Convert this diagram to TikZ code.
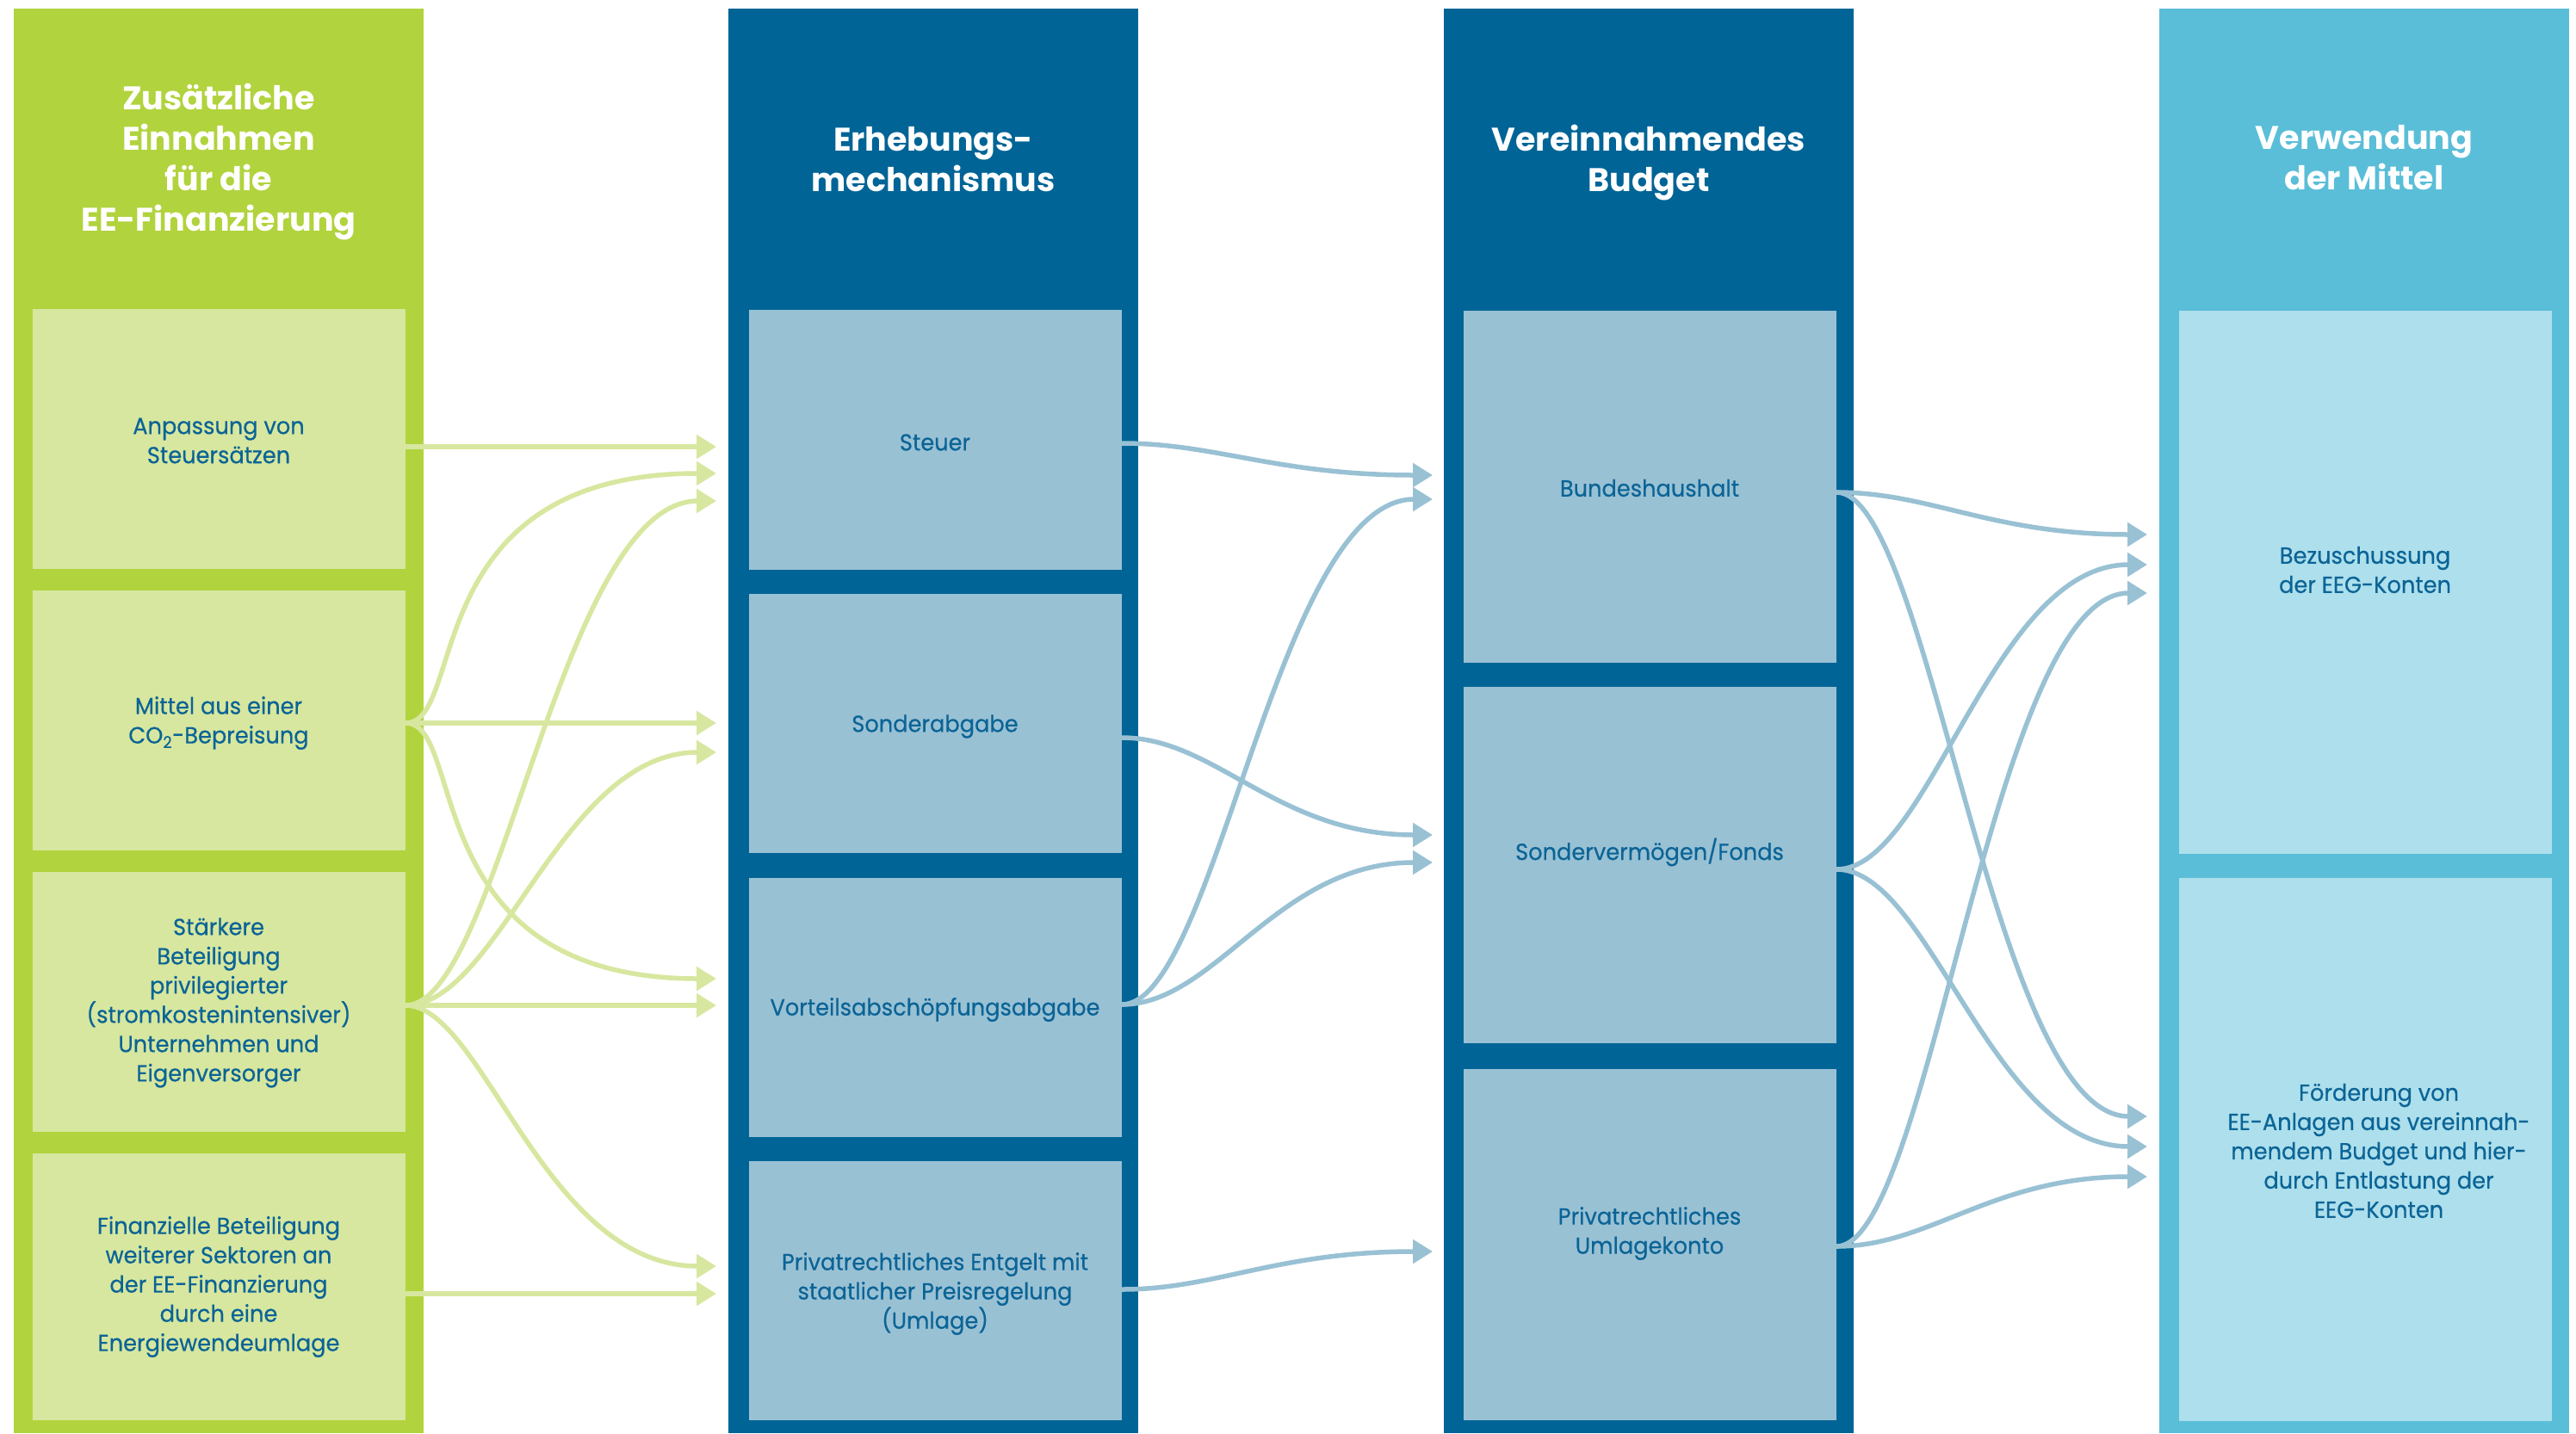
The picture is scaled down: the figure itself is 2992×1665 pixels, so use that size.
\documentclass[tikz,border=0pt]{standalone}
\usepackage{fontspec}
\setmainfont{Poppins}
\newfontfamily\bodyfont{Poppins}[FakeBold=0.5, FakeStretch=0.95]
\usetikzlibrary{arrows.meta}

\definecolor{lime}{HTML}{B1D33D}
\definecolor{limepale}{HTML}{D7E79F}
\definecolor{navy}{HTML}{006496}
\definecolor{steel}{HTML}{99C1D4}
\definecolor{sky}{HTML}{5ABED8}
\definecolor{skypale}{HTML}{ADDFEC}
\definecolor{ink}{HTML}{0B6496}

\tikzset{
  band/.style={fill=#1, draw=none, inner sep=0pt, outer sep=0pt, anchor=north west,
    minimum width=476pt, minimum height=1655pt},
  cell/.style={fill=#1, draw=none, inner sep=0pt, outer sep=0pt, anchor=north west,
    minimum width=433pt},
  head/.style={text=white, font=\fontsize{38}{47}\selectfont\bfseries, align=center, inner sep=0pt},
  txt/.style={text=ink, font=\bodyfont\fontsize{27}{34}\selectfont, align=center, inner sep=0pt},
  tipA/.style={-{Triangle[length=23pt,width=27pt]}},
  flowG/.style={draw=limepale, line width=5.5pt, tipA},
  flowB/.style={draw=steel, line width=5.5pt, tipA},
}

\begin{document}
\begin{tikzpicture}[x=1pt, y=-1pt]
\useasboundingbox (0,0) rectangle (2992,1665);
\fill[white] (0,0) rectangle (2992,1665);

% ---------- column bands ----------
\node[band=lime]  (colA) at (16,10) {};
\node[band=navy]  (colB) at (846,10) {};
\node[band=navy]  (colC) at (1677,10) {};
\node[band=sky]   (colD) at (2508,10) {};

% ---------- headers ----------
\node[head] (hA) at (254,188) {Zusätzliche\\Einnahmen\\für die\\EE-Finanzierung};
\node[head] (hB) at (1084,185) {Erhebungs-\\mechanismus};
\node[head] (hC) at (1915,189) {Vereinnahmendes\\Budget};
\node[head] (hD) at (2746,183) {Verwendung\\der Mittel};

% ---------- column 1 cells ----------
\node[cell=limepale, minimum height=302pt] (anp) at (38,359)  {};
\node[cell=limepale, minimum height=302pt] (mit) at (38,686)  {};
\node[cell=limepale, minimum height=302pt] (sta) at (38,1013) {};
\node[cell=limepale, minimum height=310pt] (fin) at (38,1340) {};

% ---------- column 2 cells ----------
\node[cell=steel, minimum height=302pt] (steu) at (870,360)  {};
\node[cell=steel, minimum height=301pt] (sond) at (870,690)  {};
\node[cell=steel, minimum height=301pt] (vort) at (870,1020) {};
\node[cell=steel, minimum height=301pt] (priv) at (870,1349) {};

% ---------- column 3 cells ----------
\node[cell=steel, minimum height=409pt] (bund) at (1700,361)  {};
\node[cell=steel, minimum height=414pt] (svf)  at (1700,798)  {};
\node[cell=steel, minimum height=408pt] (ulk)  at (1700,1242) {};

% ---------- column 4 cells ----------
\node[cell=skypale, minimum height=631pt] (bez) at (2531,361)  {};
\node[cell=skypale, minimum height=631pt] (foe) at (2531,1020) {};

% ---------- cell texts ----------
\node[txt] (t-anp) at (254,512)  {Anpassung von\\Steuersätzen};
\node[txt] (t-mit) at (254,840)  {Mittel aus einer\\CO\textsubscript{2}-Bepreisung};
\node[txt] (t-sta) at (254,1165) {Stärkere\\Beteiligung\\privilegierter\\(stromkostenintensiver)\\Unternehmen und\\Eigenversorger};
\node[txt] (t-fin) at (254,1495) {Finanzielle Beteiligung\\weiterer Sektoren an\\der EE-Finanzierung\\durch eine\\Energiewendeumlage};

\node[txt] (t-steu) at (1086,514)  {Steuer};
\node[txt] (t-sond) at (1086,844)  {Sonderabgabe};
\node[txt] (t-vort) at (1086,1173) {Vorteilsabschöpfungsabgabe};
\node[txt] (t-priv) at (1086,1503) {Privatrechtliches Entgelt mit\\staatlicher Preisregelung\\(Umlage)};

\node[txt] (t-bund) at (1916,567)  {Bundeshaushalt};
\node[txt] (t-svf)  at (1916,990)  {Sondervermögen/Fonds};
\node[txt] (t-ulk)  at (1916,1433) {Privatrechtliches\\Umlagekonto};

\node[txt] (t-bez) at (2747,662)  {Bezuschussung\\der EEG-Konten};
\node[txt] (t-foe) at (2763,1337) {Förderung von\\EE-Anlagen aus vereinnah-\\mendem Budget und hier-\\durch Entlastung der\\EEG-Konten};

% ---------- ports ----------
% outgoing, column 1
\coordinate (anp-o) at (anp.east |- 0,519);
\coordinate (mit-o) at (mit.east |- 0,840);
\coordinate (sta-o) at (sta.east |- 0,1168);
\coordinate (fin-o) at (fin.east |- 0,1503);
% incoming, column 2
\coordinate (steu-i1) at (832,519);
\coordinate (steu-i2) at (832,550);
\coordinate (steu-i3) at (832,582);
\coordinate (sond-i1) at (832,840);
\coordinate (sond-i2) at (832,874);
\coordinate (vort-i1) at (832,1137);
\coordinate (vort-i2) at (832,1168);
\coordinate (priv-i1) at (832,1471);
\coordinate (priv-i2) at (832,1503);
% outgoing, column 2
\coordinate (steu-o) at (steu.east |- 0,515);
\coordinate (sond-o) at (sond.east |- 0,857);
\coordinate (vort-o) at (vort.east |- 0,1167);
\coordinate (priv-o) at (priv.east |- 0,1498);
% incoming, column 3
\coordinate (bund-i1) at (1664,552);
\coordinate (bund-i2) at (1664,580);
\coordinate (svf-i1)  at (1664,970);
\coordinate (svf-i2)  at (1664,1002);
\coordinate (ulk-i1)  at (1664,1454);
% outgoing, column 3
\coordinate (bund-o) at (bund.east |- 0,572);
\coordinate (svf-o)  at (svf.east |- 0,1010);
\coordinate (ulk-o)  at (ulk.east |- 0,1448);
% incoming, column 4
\coordinate (bez-i1) at (2494,621);
\coordinate (bez-i2) at (2494,656);
\coordinate (bez-i3) at (2494,689);
\coordinate (foe-i1) at (2494,1297);
\coordinate (foe-i2) at (2494,1332);
\coordinate (foe-i3) at (2494,1367);

% ---------- flows: sources -> mechanisms ----------
\draw[flowG] (anp-o) -- (steu-i1);
\draw[flowG] (mit-o) .. controls +(72,0) and +(-350,0) .. (steu-i2);
\draw[flowG] (mit-o) -- (sond-i1);
\draw[flowG] (mit-o) .. controls +(72,0) and +(-350,0) .. (vort-i1);
\draw[flowG] (sta-o) .. controls +(109,0) and +(-181,0) .. (steu-i3);
\draw[flowG] (sta-o) .. controls +(109,0) and +(-181,0) .. (sond-i2);
\draw[flowG] (sta-o) -- (vort-i2);
\draw[flowG] (sta-o) .. controls +(90,0) and +(-200,0) .. (priv-i1);
\draw[flowG] (fin-o) -- (priv-i2);

% ---------- flows: mechanisms -> budgets ----------
\draw[flowB] (steu-o) .. controls +(109,0) and +(-181,0) .. (bund-i1);
\draw[flowB] (vort-o) .. controls +(109,0) and +(-181,0) .. (bund-i2);
\draw[flowB] (sond-o) .. controls +(109,0) and +(-181,0) .. (svf-i1);
\draw[flowB] (vort-o) .. controls +(109,0) and +(-181,0) .. (svf-i2);
\draw[flowB] (priv-o) .. controls +(109,0) and +(-181,0) .. (ulk-i1);

% ---------- flows: budgets -> uses ----------
\draw[flowB] (bund-o) .. controls +(109,0) and +(-181,0) .. (bez-i1);
\draw[flowB] (bund-o) .. controls +(109,0) and +(-181,0) .. (foe-i1);
\draw[flowB] (svf-o)  .. controls +(109,0) and +(-181,0) .. (bez-i2);
\draw[flowB] (svf-o)  .. controls +(109,0) and +(-181,0) .. (foe-i2);
\draw[flowB] (ulk-o)  .. controls +(109,0) and +(-181,0) .. (bez-i3);
\draw[flowB] (ulk-o)  .. controls +(109,0) and +(-181,0) .. (foe-i3);
\end{tikzpicture}
\end{document}
